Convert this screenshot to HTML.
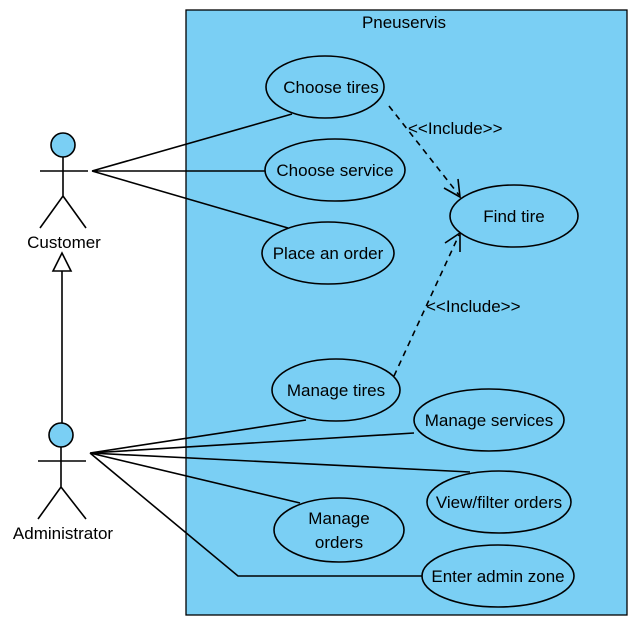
<!DOCTYPE html>
<html><head><style>body{margin:0;background:#fff}svg{display:block}</style></head><body>
<svg width="635" height="624" xmlns="http://www.w3.org/2000/svg" font-family="Liberation Sans, sans-serif" font-size="17" fill="none" stroke="#000" stroke-width="1.6">
<rect x="186" y="10" width="441" height="605" fill="#7ACFF4" stroke-width="1.3"/>
<text x="404" y="28" fill="#000" stroke="none" text-anchor="middle">Pneuservis</text>
<circle cx="63" cy="145" r="12" fill="#7ACFF4"/>
<path d="M40 171H88M63 157V196L40 228M63 196L86 228"/>
<text x="64" y="248" fill="#000" stroke="none" text-anchor="middle">Customer</text>
<path d="M62 253L53 271H71Z" fill="#fff"/>
<path d="M62 271V423"/>
<circle cx="61" cy="435" r="12" fill="#7ACFF4"/>
<path d="M38 461H86M61 447V487L38 519M61 487L86 519"/>
<text x="63" y="539" fill="#000" stroke="none" text-anchor="middle">Administrator</text>
<path d="M92 171L292 114M92 171H267M92 171L288 228"/>
<path d="M90 453L306 420M90 453L414 433M90 453L470 472M90 453L300 503M90 453L238 576H422"/>
<g stroke-dasharray="6,5"><path d="M389 106L459 195M394 376L459 235"/></g>
<path d="M444 188L460 197L458 179M445 243L460 233L460 252"/>
<text x="408" y="134" fill="#000" stroke="none">&lt;&lt;Include&gt;&gt;</text>
<text x="426" y="312" fill="#000" stroke="none">&lt;&lt;Include&gt;&gt;</text>
<g fill="#7ACFF4">
<ellipse cx="325" cy="87" rx="59" ry="31"/>
<ellipse cx="335" cy="170" rx="70" ry="31"/>
<ellipse cx="328" cy="253" rx="66" ry="31"/>
<ellipse cx="514" cy="216" rx="64" ry="31"/>
<ellipse cx="336" cy="390" rx="64" ry="31"/>
<ellipse cx="489" cy="420" rx="75" ry="31"/>
<ellipse cx="499" cy="502" rx="72" ry="31"/>
<ellipse cx="339" cy="530" rx="65" ry="32"/>
<ellipse cx="498" cy="576" rx="76" ry="31"/>
</g>
<g fill="#000" stroke="none" text-anchor="middle">
<text x="331" y="93">Choose tires</text>
<text x="335" y="176">Choose service</text>
<text x="328" y="259">Place an order</text>
<text x="514" y="222">Find tire</text>
<text x="336" y="396">Manage tires</text>
<text x="489" y="426">Manage services</text>
<text x="499" y="508">View/filter orders</text>
<text x="339" y="524">Manage</text>
<text x="339" y="548">orders</text>
<text x="498" y="582">Enter admin zone</text>
</g>
</svg>
</body></html>
